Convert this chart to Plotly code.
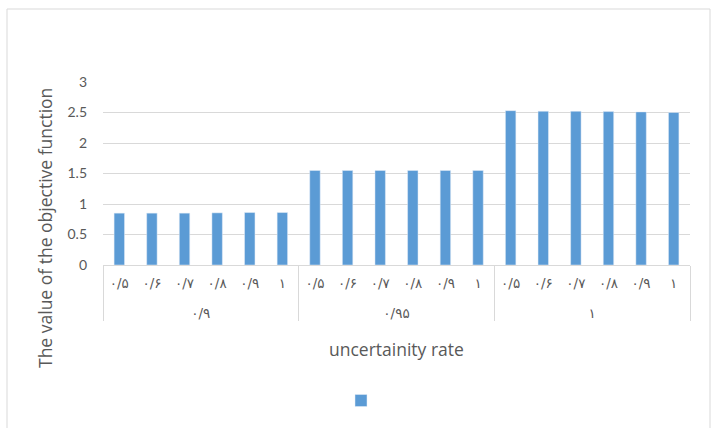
import plotly.graph_objects as go

groups = ["۰/۹"] * 6 + ["۰/۹۵"] * 6 + ["۱"] * 6
subs = ["۰/۵", "۰/۶", "۰/۷", "۰/۸", "۰/۹", "۱"] * 3
values = [0.85, 0.85, 0.85, 0.855, 0.86, 0.86,
          1.55, 1.55, 1.55, 1.55, 1.55, 1.55,
          2.53, 2.52, 2.52, 2.515, 2.51, 2.50]
y_ticks = [0, 0.5, 1, 1.5, 2, 2.5, 3]
y_labels = ["0", "0.5", "1", "1.5", "2", "2.5", "3"]

W, H = 715, 428
L, R, T, B = 103, 25, 82, 163
pw, ph = W - L - R, H - T - B

def px_x(x):
    return (x - L) / pw

def px_y(y):
    return (H - B - y) / ph

group_text = ["<br>" + g for g in groups]

fig = go.Figure()
fig.add_trace(go.Bar(x=[group_text, subs], y=values, marker_color="#5b9bd5",
                     name=" ", showlegend=True))

fig.update_layout(
    width=W, height=H,
    margin=dict(l=L, r=R, t=T, b=B),
    paper_bgcolor="white", plot_bgcolor="white",
    font=dict(family="Lato, DejaVu Sans", color="#595959", size=13),
    bargap=0.68,
    showlegend=True,
    legend=dict(orientation="h", x=px_x(341), y=px_y(386), xanchor="left", yanchor="top",
                font=dict(size=10), itemwidth=30),
    xaxis=dict(type="multicategory", showline=True, linecolor="#d9d9d9", linewidth=1,
               ticks="", ticklabelstandoff=6,
               showdividers=True, dividercolor="#d9d9d9", dividerwidth=1,
               tickfont=dict(size=13.5, family="DejaVu Sans", color="#595959")),
    yaxis=dict(range=[0, 3], tickvals=y_ticks, ticktext=y_labels, showgrid=True,
               gridcolor="#d9d9d9", zeroline=False, showline=False, ticks="",
               ticklabelstandoff=15, tickfont=dict(size=14)),
    shapes=[dict(type="rect", xref="paper", yref="paper", x0=px_x(7), x1=px_x(710),
                 y0=px_y(440), y1=px_y(9), line=dict(color="#d9d9d9", width=1),
                 fillcolor="rgba(0,0,0,0)", layer="below")],
    annotations=[
        dict(text="The value of the objective function", xref="paper", yref="paper",
             x=px_x(45), y=px_y(228), textangle=-90, showarrow=False,
             font=dict(size=17.5, color="#595959", family="Open Sans"),
             xanchor="center", yanchor="middle"),
        dict(text="uncertainity rate", xref="paper", yref="paper",
             x=px_x(396), y=px_y(349), showarrow=False,
             font=dict(size=17.5, color="#595959", family="Open Sans"),
             xanchor="center", yanchor="middle"),
    ],
)

fig.write_html("out.html")
